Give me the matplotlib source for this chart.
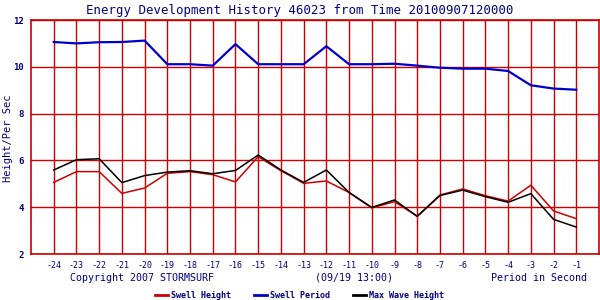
import matplotlib
matplotlib.use('Agg')
import matplotlib.pyplot as plt
from matplotlib.lines import Line2D

# data
hours = list(range(-24, 0))
swell_height = [5.06, 5.52, 5.52, 4.59, 4.82, 5.45, 5.52, 5.39, 5.08, 6.16, 5.56, 5.02,
                5.12, 4.63, 3.97, 4.24, 3.61, 4.52, 4.78, 4.49, 4.26, 4.94, 3.84, 3.51]
swell_period = [11.06, 11.0, 11.05, 11.06, 11.12, 10.11, 10.11, 10.05, 10.97, 10.11, 10.11, 10.11,
                10.88, 10.11, 10.11, 10.13, 10.05, 9.96, 9.92, 9.92, 9.82, 9.21, 9.07, 9.02]
max_wave = [5.59, 6.03, 6.07, 5.05, 5.35, 5.50, 5.56, 5.43, 5.57, 6.23, 5.59, 5.06,
            5.59, 4.63, 3.99, 4.31, 3.61, 4.50, 4.73, 4.45, 4.21, 4.58, 3.48, 3.15]
yticks = [2, 4, 6, 8, 10, 12]
series_names = ['Swell Height', 'Swell Period', 'Max Wave Height']
series_colors = ['#cc0000', '#0000cc', 'black']

navy = '#000080'
grid_red = '#cc0000'
mono = 'DejaVu Sans Mono'

fig = plt.figure(figsize=(6, 3), dpi=100)
ax = fig.add_axes([31/600, 46/300, 568/600, 234/300])

ax.plot(hours, swell_height, color=series_colors[0], lw=1.1)
ax.plot(hours, swell_period, color=series_colors[1], lw=1.6)
ax.plot(hours, max_wave, color=series_colors[2], lw=1.1)

ax.set_xlim(-25, 0)
ax.set_ylim(2, 12)
ax.set_xticks(hours)
ax.set_xticklabels([str(h) for h in hours], family=mono, fontsize=6, color=navy)
ax.set_yticks(yticks)
ax.set_yticklabels([str(v) for v in yticks], family=mono, fontsize=6.5, color=navy, weight='bold')
ax.tick_params(length=0, pad=5)
ax.grid(True, color=grid_red, lw=1)
ax.set_axisbelow(True)
for s in ax.spines.values():
    s.set_color(grid_red)
    s.set_linewidth(1.2)

fig.text(0.5, 0.965, 'Energy Development History 46023 from Time 20100907120000',
         ha='center', va='center', family=mono, fontsize=8.9, color=navy)
fig.text(8/600, 1 - 138/300, 'Height/Per Sec', rotation=90, ha='center', va='center',
         family=mono, fontsize=7.5, color=navy)
fig.text(70/600, 1 - 278/300, 'Copyright 2007 STORMSURF', ha='left', va='center',
         family=mono, fontsize=7.2, color=navy)
fig.text(354/600, 1 - 278/300, '(09/19 13:00)', ha='center', va='center',
         family=mono, fontsize=7.2, color=navy)
fig.text(587/600, 1 - 278/300, 'Period in Second', ha='right', va='center',
         family=mono, fontsize=7.2, color=navy)

# legend drawn by hand to sit where the reference has it
leg_x = [155, 254, 353]
leg_y = 1 - 295/300
for x0, name, col in zip(leg_x, series_names, series_colors):
    fig.add_artist(Line2D([x0/600, (x0 + 13)/600], [leg_y, leg_y], color=col, lw=2,
                          transform=fig.transFigure))
    fig.text((x0 + 16)/600, leg_y, name, ha='left', va='center',
             family=mono, fontsize=6, color=navy, weight='bold')

fig.savefig('out.png', dpi=100)
